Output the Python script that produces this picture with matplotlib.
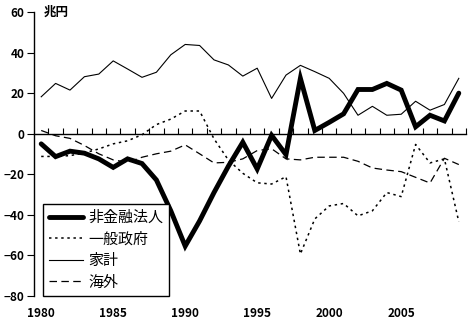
import numpy as np
import matplotlib.pyplot as plt
from matplotlib.ticker import FixedLocator, MultipleLocator

plt.rcParams['font.family'] = ['Noto Sans CJK JP', 'DejaVu Sans']

# 部門別資金過不足（兆円）
years = np.arange(1980, 2010)
corporate = [-5.0, -11.3, -8.6, -9.6, -12.4, -16.6, -12.4, -14.7, -22.8, -38.0,
             -55.4, -43.0, -29.0, -16.0, -4.2, -17.4, -0.8, -10.3, 27.3, 1.6,
             5.6, 9.8, 21.8, 21.8, 24.8, 21.5, 3.4, 9.1, 6.3, 20.0]
government = [-11.2, -11.2, -10.8, -9.5, -7.5, -5.0, -3.5, -0.5, 4.5, 7.2,
              11.2, 11.2, -2.5, -13.0, -19.5, -24.2, -24.8, -21.2, -59.3, -42.0,
              -35.6, -34.4, -40.5, -38.0, -29.0, -31.0, -5.3, -14.4, -12.4, -43.4]
household = [18.2, 24.8, 21.5, 28.1, 29.4, 35.9, 31.9, 27.8, 30.3, 38.9,
             44.0, 43.5, 36.4, 33.9, 28.4, 32.3, 17.4, 28.9, 33.7, 30.6,
             27.3, 19.9, 9.1, 13.5, 9.1, 9.6, 16.0, 11.6, 14.4, 27.3]
overseas = [1.6, -1.0, -2.3, -5.8, -9.9, -12.9, -14.1, -11.6, -9.9, -8.6,
            -5.5, -9.9, -14.4, -14.1, -12.4, -8.3, -7.4, -12.4, -12.9, -11.6,
            -11.6, -11.6, -13.6, -16.9, -17.9, -18.7, -21.5, -24.3, -12.1, -15.2]

fig = plt.figure(figsize=(4.72, 3.25), dpi=100)
ax = fig.add_axes([34/472, 29/325, 432/472, 284/325])

ax.plot(years, corporate, color='black', lw=3.5, solid_joinstyle='miter',
        solid_capstyle='round', label='非金融法人')
ax.plot(years, government, color='black', lw=1.1, dashes=(1.6, 2.4), label='一般政府')
ax.plot(years, household, color='black', lw=0.8, label='家計')
ax.plot(years, overseas, color='black', lw=0.9, dashes=(6, 3.5), label='海外')

ax.set_xlim(1979.5, 2009.5)
ax.set_ylim(-80, 60)
ax.spines['top'].set_visible(False)
ax.spines['right'].set_visible(False)
ax.spines['bottom'].set_position(('data', 0))
ax.spines['bottom'].set_linewidth(1.0)
ax.spines['left'].set_linewidth(1.0)

# 年の区切りは0の線の上に、年ラベルは下端に
ax.xaxis.set_major_locator(FixedLocator(np.arange(1980.5, 2010)))
ax.tick_params(axis='x', direction='in', length=4, width=0.8, labelbottom=False)
ax.yaxis.set_major_locator(MultipleLocator(20))
ax.tick_params(axis='y', direction='out', length=5, width=0.8, labelsize=8.5, pad=2)
for lab in ax.get_yticklabels():
    lab.set_fontweight('bold')

sec = ax.secondary_xaxis('bottom')
sec.set_xticks(years[::5])
sec.tick_params(length=0, labelsize=8.5, pad=8)
sec.spines['bottom'].set_visible(False)
for lab in sec.get_xticklabels():
    lab.set_fontweight('bold')

ax.text(0.022, 1.0, '兆円', transform=ax.transAxes, ha='left', va='center',
        fontsize=9, fontweight='bold')

leg = ax.legend(loc='lower left', bbox_to_anchor=(0.02, 0), borderaxespad=0,
                fancybox=False, edgecolor='black', framealpha=1, fontsize=10.8,
                handlelength=2.25, handletextpad=0.35, labelspacing=0.5, borderpad=0.42)
leg.get_frame().set_linewidth(1.0)

fig.savefig('out.png', dpi=100)
